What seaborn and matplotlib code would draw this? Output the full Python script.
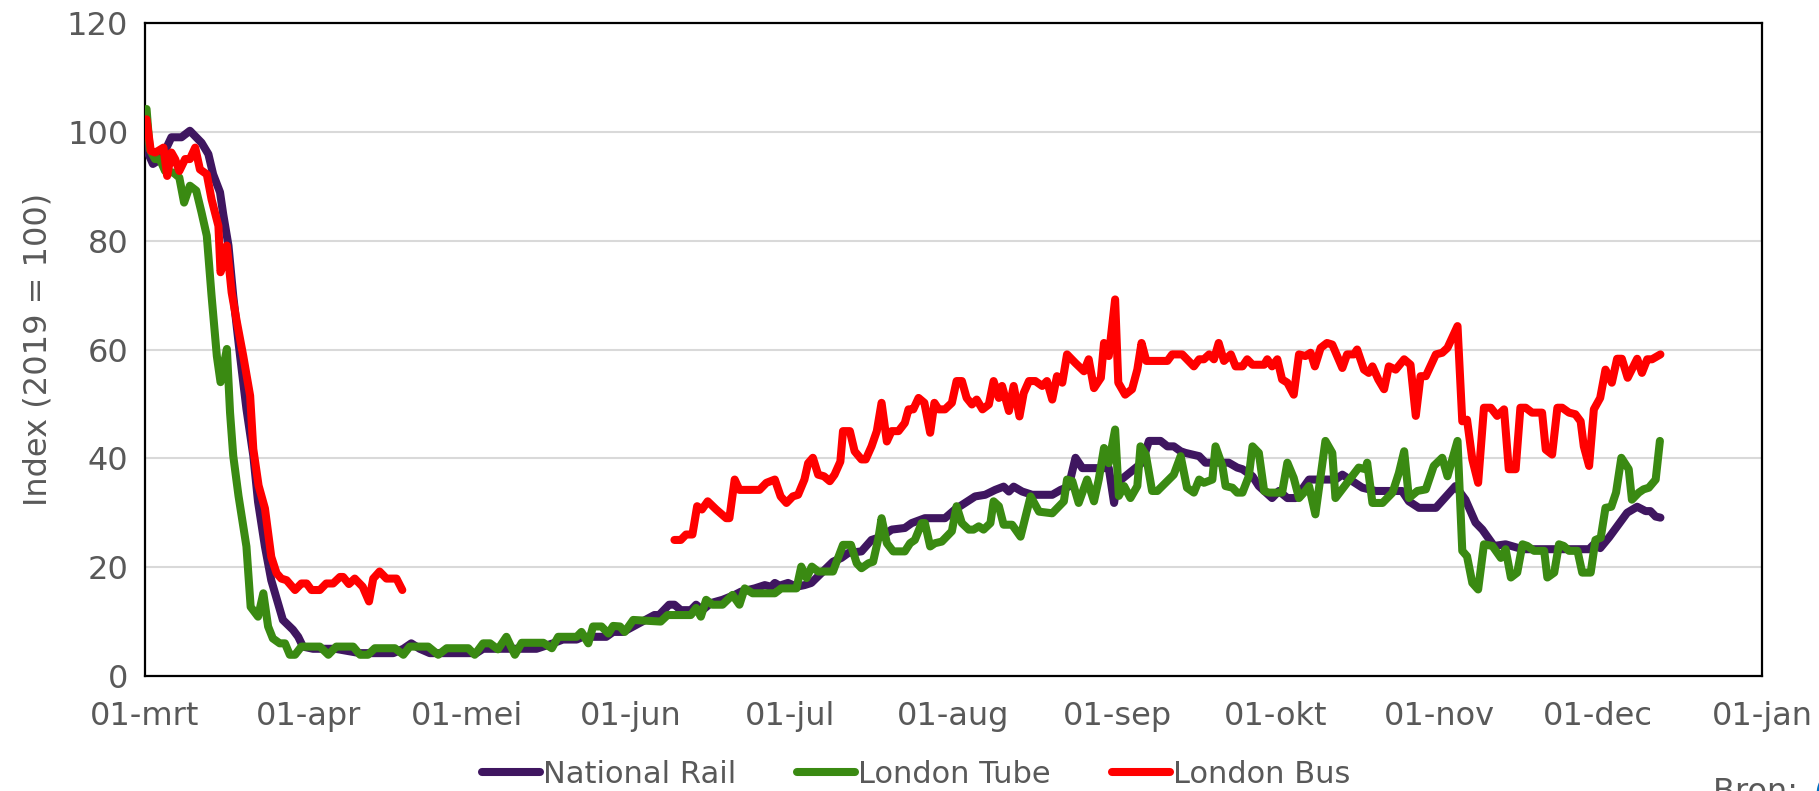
import numpy as np
import pandas as pd
import seaborn as sns
import matplotlib.pyplot as plt
from matplotlib.lines import Line2D

# days since 01-mrt-2020 and index values (2019 = 100)
rail_days = [0, 1.5, 2.5, 3.5, 5, 6.9, 8.5, 10.7, 12, 12.9, 14.2, 14.8, 15.8, 16.7, 18, 19.2, 20.5, 21.4,
             22.7, 23.9, 25.2, 26.1, 28, 29, 29.9, 31.8, 36, 40.7, 47, 48.9, 50.4, 52, 53.9, 62.7, 64, 70.3,
             74.1, 77.2, 79.1, 81.7, 82.9, 87.3, 88.6, 90.5, 92.4, 96.4, 97.3, 99.2, 100.2, 101.4, 103.3,
             104.3, 105.5, 107.1, 109.3, 111.6, 112.8, 115.4, 117.3, 118.5, 119.2, 120.1, 121.7, 123.3,
             124.8, 126.1, 128, 130.2, 131.8, 133.1, 135.6, 137.5, 139.4, 141.3, 143.8, 145.1, 147.6,
             151.4, 153.3, 155.2, 157.1, 159, 160.9, 162.5, 163.5, 164.4, 166, 167.9, 171.7, 173.3, 174.8,
             176.1, 177.4, 182.4, 183.4, 184, 188.7, 190, 192.2, 193.5, 194.7, 196, 196.9, 199.5, 200.7,
             205.1, 206.7, 207.7, 209.6, 210.8, 213.3, 214.6, 216.2, 217.8, 220.3, 225.3, 226.6, 230.4,
             232.9, 237.9, 239.2, 241.1, 244.3, 248, 249.9, 251.8, 253.1, 255.3, 257.5, 260.7, 273.3,
             274.5, 275.4, 277.1, 278.6, 280.5, 282.4, 284, 284.9, 285.9, 286.8]
rail_vals = [97.4, 94.1, 94.7, 95.9, 99, 99, 100.2, 98, 95.9, 92.2, 88.9, 84.9, 79.1, 69.9, 58.8, 49.1, 40.5, 32,
             23.8, 17.6, 13.3, 10.3, 8.5, 7.2, 5.4, 5, 5, 4.2, 4.2, 5, 6, 5, 4.2, 4.2, 5, 5,
             5, 6, 6.7, 6.7, 7.2, 7.2, 8.1, 8.1, 9.1, 11.2, 11.2, 13.1, 13.1, 12.1, 12.1,
             13.1, 12.1, 13.4, 14, 14.9, 15.5, 16.1, 16.7, 16.4, 17.1, 16.6, 17.1, 16.4,
             16.7, 17.1, 18.9, 21, 21.7, 22.6, 22.9, 25, 25.6, 26.9, 27.2, 28.1, 29,
             29, 30.6, 31.8, 33, 33.3, 34.2, 34.8, 33.9, 34.8, 33.9, 33.3, 33.3, 34.2, 34.8,
             40.1, 38.2, 38.2, 31.8, 35.5, 39.2, 43.2, 43.2, 42.2, 42.2, 41.3, 41, 40.4, 39.2,
             39.2, 38.3, 38, 36.7, 34.9, 32.7, 34, 32.7, 32.7, 36.1, 36.1, 37, 34.6,
             34, 34, 32.1, 30.9, 30.9, 34.9, 32.4, 28.2, 26.9, 23.9, 24.2, 23.3, 23.3,
             24.5, 23.5, 25.5, 27.5, 30, 31.1, 30.3, 30.3, 29.3, 29.1]

tube_days = [0.3, 0.9, 1.9, 2.8, 3.8, 5.4, 6.5, 7.4, 8.5, 9.7, 10.7, 11.7, 12.6, 13.6, 14.3, 15.5, 16.1, 16.7,
             17.7, 19.2, 20, 21.4, 22.4, 23.3, 24.2, 25.5, 26.5, 27.4, 28.4, 29.6, 33.1, 34.7, 36.2, 39.4,
             40.7, 42.2, 43.5, 47.3, 48.9, 50.1, 53.6, 55.5, 57.1, 61.2, 62.4, 64, 65.3, 66.8, 68.4, 70,
             71.3, 75.4, 77, 78.2, 81.7, 82.6, 83.9, 84.8, 86.4, 87.7, 88.6, 89.9, 90.8, 92.4, 97.6, 98.9,
             103.3, 104.3, 105.2, 106.2, 107.4, 109.3, 111.2, 112.5, 113.5, 115, 119.2, 120.4, 123.3,
             124.2, 125.2, 126.2, 127.4, 130.2, 132.1, 133.6, 134.7, 135.6, 136.9, 137.8, 138.8, 139.4,
             140.4, 141.6, 143.8, 144.8, 145.7, 147, 147.6, 148.6, 149.5, 150.8, 152.7, 153.6, 154.6,
             155.9, 156.8, 157.8, 158.7, 160, 160.6, 161.6, 162.5, 164.1, 165.7, 167.6, 169.2, 171.7,
             173.9, 174.5, 175.5, 176.7, 178.3, 179.6, 180.5, 181.5, 182.4, 183.6, 184.3, 185.3, 186.5,
             187.8, 188.4, 189.4, 190.6, 191.6, 194.7, 196, 197.2, 198.5, 199.5, 200.4, 202, 202.6,
             203.9, 204.5, 205.8, 206.7, 207.7, 208.9, 209.6, 210.8, 211.8, 212.7, 215.2, 216.2, 217.4,
             218.4, 219.6, 220.3, 221.5, 223.4, 224.7, 225.3, 229.7, 231, 231.3, 232.3, 234.2, 236.1,
             237.3, 238.3, 239.2, 240.8, 242.4, 243.9, 245.5, 246.5, 248.4, 249.3, 250.2, 251.2, 252.3,
             253.4, 255, 256.6, 257.5, 258.5, 259.7, 260.7, 261.6, 262.9, 264.8, 265.4, 266.7, 267.6,
             268.5, 269.5, 271.1, 272, 273.6, 274.5, 275.5, 276.4, 277.5, 278.4, 279.4, 280.8, 281.4,
             282.7, 283.6, 284.6, 285.9, 286.7]
tube_vals = [104.2, 96.8, 95, 95, 92.8, 92.5, 91.6, 87, 90.1, 89.2, 85.2, 80.9, 69.9, 58.8, 54, 60.1, 48.4, 40.5,
             33.1, 23.8, 12.7, 10.9, 15.2, 9.1, 6.9, 6, 6, 3.9, 3.9, 5.4, 5.4, 3.9, 5.4, 5.4,
             3.9, 3.9, 5.1, 5.1, 3.9, 5.4, 5.4, 3.9, 5.1, 5.1, 3.9, 6, 6, 4.9, 7.2, 3.9,
             6.1, 6.1, 5.1, 7.2, 7.2, 8.1, 6, 9.1, 9.1, 7.8, 9.2, 9.1, 8.1, 10.3, 10, 11.2,
             11.2, 12.5, 10.9, 14, 13.1, 13.1, 14.9, 13.1, 16.1, 15.2, 15.2, 16.1, 16.1,
             20.1, 18, 20.1, 19.2, 19.2, 24.1, 24.1, 20.7, 19.8, 20.7, 21, 25.3, 29,
             24.4, 22.9, 22.9, 24.4, 25, 28.1, 28.1, 23.8, 24.4, 24.7, 26.6, 31.2, 28.1,
             26.9, 26.9, 27.5, 26.9, 28.1, 32.1, 31.2, 27.8, 27.8, 25.6, 33, 30.2, 29.9,
             32.1, 36.1, 35.8, 31.8, 36.1, 32.1, 36.1, 41.9, 39.1, 45.3, 33.1, 34.9, 32.7,
             34.9, 42.2, 40.7, 34, 34, 37, 40.4, 34.6, 33.7, 36.1, 35.5, 36.1, 42.2,
             38.6, 34.9, 34.6, 33.7, 33.7, 36.7, 42.2, 41, 34, 33.7, 33.7, 39.2, 36.4,
             32.7, 34, 34.9, 29.7, 43.2, 41, 32.7, 38.3, 38, 39.2, 31.8, 31.8, 33.7,
             37.3, 41.3, 32.7, 34, 34.3, 38.6, 40.1, 36.7, 43.2, 23, 22, 17.1, 15.9,
             24.2, 23.9, 21.7, 23.3, 18.1, 19, 24.2, 23.9, 23, 23, 18.1, 19, 24.2,
             23.9, 23, 23, 19, 19, 25, 25.4, 30.9, 31.1, 33.7, 40.1, 38, 32.4,
             33.7, 34.3, 34.6, 36.1, 43.2]

# bus series has no data between mid-April and early June
bus1_days = [0.3, 1.1, 1.9, 2.5, 3.5, 4.2, 5, 5.7, 6.5, 7.6, 8.5, 9.5, 10.4, 11.7, 12.6, 13.9, 14.3, 14.8,
             15.5, 16.4, 17.4, 18.6, 19.9, 20.5, 21.5, 22.7, 23.9, 24.9, 25.8, 26.8, 28.4, 29.6, 30.6,
             31.5, 33.1, 34.3, 35.6, 36.9, 37.5, 38.6, 39.7, 41.2, 42.4, 43.2, 44.4, 45.7, 47.6, 48.7]
bus1_vals = [102.3, 96.5, 96.2, 96.5, 97.1, 91.9, 96.2, 95, 92.8, 95, 95, 97.1, 93.1, 92.2, 87.6, 82.7, 74.2, 75.7,
             79.1, 70.5, 65, 58.8, 51.5, 41.7, 35, 30.8, 21.9, 18.9, 17.9, 17.6, 15.8, 17, 17,
             15.8, 15.8, 17, 17, 18.2, 18.2, 16.9, 17.9, 16.4, 13.7, 17.9, 19.2, 17.9, 17.9, 15.8]
bus2_days = [100.2, 101.4, 102.4, 103.6, 104.5, 105.4, 106.5, 108.1, 110, 110.6, 111.6, 112.5, 116.3, 117.6,
             119.2, 120.3, 121.4, 122.6, 123.6, 124.8, 125.5, 126.4, 127.4, 128.5, 129.6, 130.5, 131.6,
             132.1, 133.4, 134.3, 135.6, 136.4, 137.5, 138.5, 139.4, 140.4, 141.3, 142.6, 143.8, 144.5,
             145.4, 146.4, 147.5, 148.6, 149.4, 150.2, 151.4, 152.7, 153.6, 154.6, 155.5, 156.5, 157.4,
             158.5, 159.7, 160.6, 161.6, 162.2, 163.5, 164.4, 165.5, 166.3, 167.3, 168.5, 169.8, 170.7,
             171.7, 172.6, 173.6, 174.5, 176.1, 177.7, 178.6, 179.6, 180.9, 181.5, 182.4, 183.6, 184.2,
             185.5, 186.8, 187.8, 188.6, 189.5, 193.5, 194.4, 196.3, 198.5, 199.5, 200.4, 201.4, 202.3,
             203.2, 204.2, 205.5, 206.4, 207.7, 208.6, 209.6, 211.8, 212.4, 213.3, 214.3, 215.2, 216.2,
             217.4, 218.4, 219.6, 220.6, 221.4, 222.5, 223.7, 224.7, 226.6, 227.5, 228.8, 229.4, 230.7,
             231.6, 232.3, 233.4, 234.5, 235.4, 236.7, 238.3, 239.5, 240.5, 241.4, 242.4, 244.3, 245.5,
             246.5, 248.4, 249.3, 250.2, 251.2, 252.3, 253.4, 254.7, 255.9, 257.2, 258.1, 259.4, 260.3,
             261.3, 262.5, 264.4, 265.1, 266.3, 267.3, 268.2, 269.5, 270.7, 271.7, 272.3, 273.3, 274.2,
             275.4, 276.4, 277.6, 278.6, 279.5, 280.6, 282.4, 283.3, 284.3, 285.2, 286.8]
bus2_vals = [25, 25, 26, 26, 31.2, 30.6, 32.1, 30.6, 29, 29, 36.1, 34.2, 34.2, 35.5,
             36.1, 33, 31.8, 33, 33.3, 36.1, 39.1, 40.1, 37, 36.7, 35.8, 37, 39.4,
             45, 45, 41.3, 39.8, 39.8, 42.2, 45, 50.2, 43.1, 45, 45, 46.5, 49,
             49, 51.1, 50.2, 44.7, 50.2, 49, 49, 50.2, 54.2, 54.2, 51.1, 49.9, 50.8,
             49, 49.9, 54.2, 51.1, 53.3, 48.7, 53.3, 47.7, 52, 54.2, 54.2, 53.3, 54.2,
             50.8, 55.1, 53.9, 59.1, 57.5, 56, 58.2, 52.9, 54.8, 61.2, 58.8, 69.2, 53.9,
             51.7, 52.7, 56.3, 61.2, 57.9, 57.9, 59.1, 59.1, 56.9, 58.2, 58.2, 59.1, 58.2,
             61.2, 57.9, 59.1, 56.9, 56.9, 58.2, 57.2, 57.2, 58.2, 56.9, 58.2, 54.5, 53.9,
             51.7, 59.1, 58.8, 59.4, 56.9, 60.3, 61.2, 60.9, 56.6, 59.1, 59.1, 60, 56.3,
             55.7, 56.9, 54.5, 52.7, 56.9, 56.3, 58.2, 57.2, 47.8, 55.1, 55.1, 59.1, 59.4,
             60.3, 64.3, 46.8, 47.1, 39.8, 35.5, 49.3, 49.3, 47.8, 49, 38, 38, 49.3,
             49.3, 48.4, 48.4, 41.6, 40.7, 49.3, 49.3, 48.4, 48.1, 46.8, 42.2, 38.6, 49,
             51.1, 56.3, 53.9, 58.3, 58.3, 54.8, 58.3, 55.7, 58.2, 58.2, 59.1]

series_names = ['National Rail', 'London Tube', 'London Bus']
colors = ['#3f1660', '#3a8a12', '#ff0000']
month_labels = ['01-mrt', '01-apr', '01-mei', '01-jun', '01-jul', '01-aug', '01-sep',
                '01-okt', '01-nov', '01-dec', '01-jan']

start = pd.Timestamp('2020-03-01')
frames = []
for name, seg, d, v in [('National Rail', 'rail', rail_days, rail_vals),
                        ('London Tube', 'tube', tube_days, tube_vals),
                        ('London Bus', 'bus1', bus1_days, bus1_vals),
                        ('London Bus', 'bus2', bus2_days, bus2_vals)]:
    frames.append(pd.DataFrame({'date': start + pd.to_timedelta(d, unit='D'),
                                'value': v, 'series': name, 'seg': seg}))
df = pd.concat(frames, ignore_index=True)

sns.set_style('white')
plt.rcParams['font.family'] = ['DejaVu Sans']

grey = '#595959'
lw = 5.8
fig = plt.figure(figsize=(18.19, 7.91), dpi=100)
ax = fig.add_axes([0.0797, 0.1454, 0.8889, 0.8255])

sns.lineplot(data=df, x='date', y='value', hue='series', hue_order=series_names,
             palette=dict(zip(series_names, colors)), units='seg', estimator=None,
             linewidth=lw, solid_capstyle='round', solid_joinstyle='round',
             legend=False, ax=ax, zorder=3)

ticks = pd.date_range('2020-03-01', '2021-01-01', freq='MS')
ax.set_xticks(ticks)
ax.set_xticklabels(month_labels)
ax.set_xlim(ticks[0], ticks[-1])
ax.set_ylim(0, 120)
ax.set_yticks(range(0, 121, 20))
ax.yaxis.grid(True, color='#d9d9d9', linewidth=1.5)
ax.xaxis.grid(False)
ax.set_axisbelow(True)
for s in ax.spines.values():
    s.set_color('black')
    s.set_linewidth(1.6)
ax.tick_params(axis='x', direction='out', length=8, width=1.6, color='black',
               labelsize=23, labelcolor=grey, pad=10)
ax.tick_params(axis='y', length=0, labelsize=23, labelcolor=grey, pad=12)
ax.set_xlabel('')
ax.set_ylabel('Index (2019 = 100)', fontsize=23, color=grey, labelpad=10)

handles = [Line2D([0], [0], color=c, lw=lw, solid_capstyle='round') for c in colors]
fig.legend(handles, series_names, loc='center', bbox_to_anchor=(0.5037, 0.021), ncol=3,
           frameon=False, fontsize=22, labelcolor=grey, handlelength=1.9,
           handletextpad=0.1, columnspacing=2.0)

# source line is cut off at the bottom edge in the original as well
fig.text(0.942, -0.013, 'Bron: ', fontsize=23, color=grey, va='baseline', ha='left')
fig.text(0.997, -0.013, '(', fontsize=23, color='#0070c0', va='baseline', ha='left')

fig.savefig('out.png', dpi=100)
